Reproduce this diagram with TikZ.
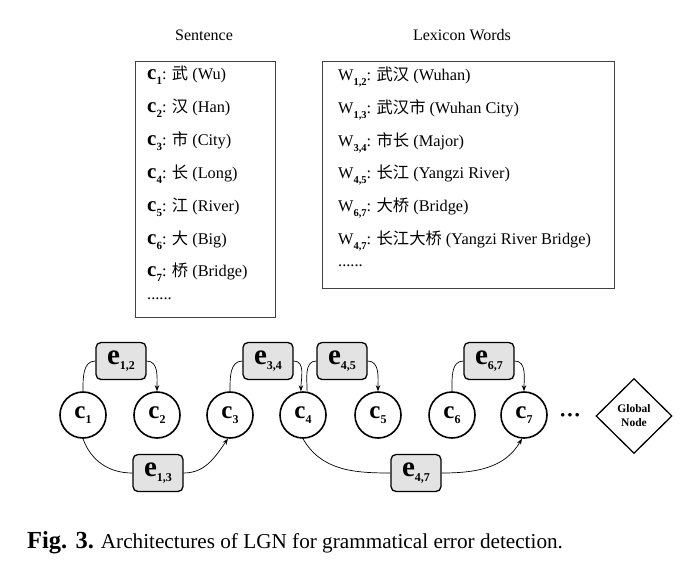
\documentclass[tikz,border=0pt]{standalone}
\usepackage{fontspec}
\setmainfont{Liberation Serif}
\newfontfamily\cjk{Noto Sans CJK SC}
\usetikzlibrary{shapes.geometric,arrows.meta}
\newcommand{\idx}[2][12]{\raisebox{-5pt}{\fontsize{#1}{#1}\selectfont\bfseries #2}}

\begin{document}
\begin{tikzpicture}[x=1pt,y=-1pt]
          \tikzstyle{every node}=[inner sep=0pt]
          \tikzstyle{charnode}=[circle, draw, line width=1.6pt, minimum size=46pt, font=\fontsize{25}{25}\selectfont\bfseries]
          \tikzstyle{edgenode}=[rectangle, rounded corners=5pt, draw, line width=1.3pt, fill=gray!22, minimum width=50pt, minimum height=37pt, font=\fontsize{29}{29}\selectfont\bfseries]
          \tikzstyle{listbox}=[draw=black!75, line width=1pt]
          \tikzstyle{listitem}=[anchor=west, font=\fontsize{16.3}{18}\selectfont]
          \tikzstyle{link}=[line width=0.7pt]
          \tikzstyle{arrowlink}=[link, -{Stealth[length=6pt,width=4.5pt]}]
          \useasboundingbox (0,0) rectangle (696,584);

          % the two lists
          \node[font=\fontsize{16}{18}\selectfont] (senttitle) at (204,35) {Sentence};
          \node[font=\fontsize{16}{18}\selectfont] (lextitle) at (462,35) {Lexicon Words};
          \node[listbox, minimum width=140pt, minimum height=256pt] (sentbox) at (205,189) {};
          \node[listbox, minimum width=292pt, minimum height=227pt] (lexbox) at (468,174.5) {};

          \node[listitem] (s1) at (147,75) {{\fontsize{21}{21}\selectfont\bfseries c}\idx[11]{1}: {\cjk 武} (Wu)};
          \node[listitem] (s2) at (147,108) {{\fontsize{21}{21}\selectfont\bfseries c}\idx[11]{2}: {\cjk 汉} (Han)};
          \node[listitem] (s3) at (147,141) {{\fontsize{21}{21}\selectfont\bfseries c}\idx[11]{3}: {\cjk 市} (City)};
          \node[listitem] (s4) at (147,174) {{\fontsize{21}{21}\selectfont\bfseries c}\idx[11]{4}: {\cjk 长} (Long)};
          \node[listitem] (s5) at (147,207) {{\fontsize{21}{21}\selectfont\bfseries c}\idx[11]{5}: {\cjk 江} (River)};
          \node[listitem] (s6) at (147,240) {{\fontsize{21}{21}\selectfont\bfseries c}\idx[11]{6}: {\cjk 大} (Big)};
          \node[listitem] (s7) at (147,272) {{\fontsize{21}{21}\selectfont\bfseries c}\idx[11]{7}: {\cjk 桥} (Bridge)};
          \node[listitem] (sdots) at (147,299) {......};

          \node[listitem] (w12) at (338,77) {W\idx[10.5]{1,2}: {\cjk 武汉} (Wuhan)};
          \node[listitem] (w13) at (338,110) {W\idx[10.5]{1,3}: {\cjk 武汉市} (Wuhan City)};
          \node[listitem] (w34) at (338,143) {W\idx[10.5]{3,4}: {\cjk 市长} (Major)};
          \node[listitem] (w45) at (338,175) {W\idx[10.5]{4,5}: {\cjk 长江} (Yangzi River)};
          \node[listitem] (w67) at (338,208) {W\idx[10.5]{6,7}: {\cjk 大桥} (Bridge)};
          \node[listitem] (w47) at (338,241) {W\idx[10.5]{4,7}: {\cjk 长江大桥} (Yangzi River Bridge)};
          \node[listitem] (wdots) at (338,266) {......};

          % the graph
          \node[charnode] (c1) at (83,415) {c\idx{1}};
          \node[charnode] (c2) at (157,415) {c\idx{2}};
          \node[charnode] (c3) at (230,415) {c\idx{3}};
          \node[charnode] (c4) at (303,415) {c\idx{4}};
          \node[charnode] (c5) at (378,415) {c\idx{5}};
          \node[charnode] (c6) at (452,415) {c\idx{6}};
          \node[charnode] (c7) at (524,415) {c\idx{7}};
          \node[font=\fontsize{22}{22}\selectfont\bfseries] (more) at (570,418) {···};
          \node[diamond, draw, line width=1.3pt, aspect=1, minimum width=76pt, minimum height=75pt, align=center, font=\fontsize{11.5}{14}\selectfont\bfseries] (global) at (634,416) {Global\\Node};

          \node[edgenode] (e12) at (121,361) {e\idx{1,2}};
          \node[edgenode] (e34) at (268,361) {e\idx{3,4}};
          \node[edgenode] (e45) at (342,361) {e\idx{4,5}};
          \node[edgenode] (e67) at (489,361) {e\idx{6,7}};
          \node[edgenode] (e13) at (158,473) {e\idx{1,3}};
          \node[edgenode] (e47) at (416,473) {e\idx{4,7}};

          \draw[link] (c1.north) to[out=90, in=180] (e12.west);
          \draw[arrowlink] (e12.east) to[out=0, in=90] (c2.north);
          \draw[link] (c3.north) to[out=90, in=180] (e34.west);
          \draw[arrowlink] (e34.east) to[out=0, in=90] (c4.95);
          \draw[link] (c4.80) to[out=90, in=180] (e45.west);
          \draw[arrowlink] (e45.east) to[out=0, in=90] (c5.north);
          \draw[link] (c6.north) to[out=90, in=180] (e67.west);
          \draw[arrowlink] (e67.east) to[out=0, in=90] (c7.north);
          \draw[link] (c1.south) to[out=-70, in=180] (e13.west);
          \draw[arrowlink] (e13.east) to[out=0, in=-125] (c3.265);
          \draw[link] (c4.south) to[out=-60, in=180] (e47.west);
          \draw[arrowlink] (e47.east) to[out=0, in=-120] (c7.265);

          \node[anchor=west] (caption) at (27,543) {{\fontsize{24.5}{24}\selectfont\bfseries Fig. 3.}\hspace{7pt}{\fontsize{21.2}{24}\selectfont Architectures of LGN for grammatical error detection.}};
        \end{tikzpicture}
\end{document}
